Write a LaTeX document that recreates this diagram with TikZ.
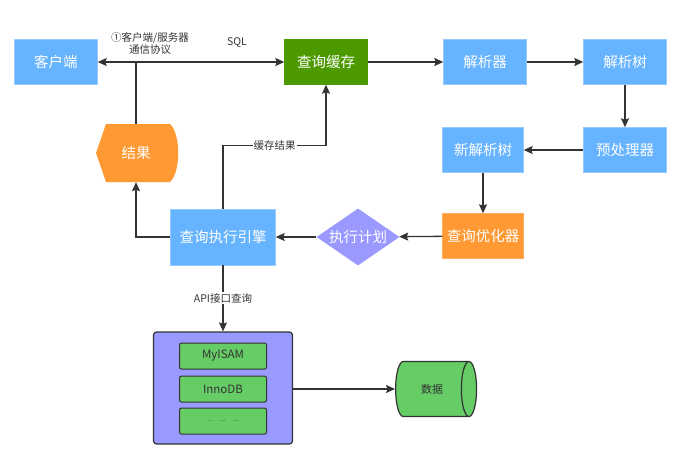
\documentclass[tikz,border=0pt]{standalone}
\usepackage{fontspec}
\setmainfont{Noto Sans CJK SC}
\usetikzlibrary{shapes.geometric,arrows.meta}
\definecolor{boxblue}{HTML}{66B3FF}
\definecolor{boxgreen}{HTML}{4D9A00}
\definecolor{boxorange}{HTML}{FF9933}
\definecolor{boxpurple}{HTML}{9999FF}
\definecolor{enggreen}{HTML}{66CC66}
\definecolor{linegray}{HTML}{333333}
\begin{document}
\begin{tikzpicture}[x=1pt, y=-1pt,
>={Stealth[length=9pt,width=8pt,inset=1.5pt]},
step box/.style={rectangle, fill=boxblue, draw=boxblue!70!white, text=white, font=\fontsize{14.5}{16}\selectfont, minimum width=83pt, minimum height=45pt, inner sep=0pt},
cache box/.style={step box, fill=boxgreen, draw=boxgreen},
opt box/.style={step box, fill=boxorange, draw=boxorange!80!white},
plan/.style={diamond, aspect=1.45, fill=boxpurple, text=white, font=\fontsize{14.5}{16}\selectfont, minimum width=83pt, minimum height=57pt, inner sep=0pt},
result/.style={rectangle, text=white, font=\fontsize{14.5}{16}\selectfont, minimum width=81pt, minimum height=58pt, inner sep=0pt},
engine/.style={rectangle, rounded corners=2pt, fill=enggreen, draw=linegray, line width=1pt, text=linegray, font=\fontsize{11.5}{13}\selectfont, minimum width=87pt, minimum height=26pt},
store/.style={rectangle, rounded corners=3pt, fill=boxpurple, draw=linegray, line width=1.2pt, minimum width=139pt, minimum height=112pt},
data/.style={cylinder, aspect=1.5, fill=enggreen, draw=linegray, line width=1.2pt, text=linegray, font=\fontsize{11}{13}\selectfont, minimum width=55pt, minimum height=81pt, inner sep=0pt},
link/.style={draw=linegray, line width=1.3pt},
tag/.style={text=linegray, font=\fontsize{10.5}{12}\selectfont, inner sep=1pt, align=center},
]
\useasboundingbox (0,0) rectangle (699,455);
\fill[boxorange] (96,153) -- (106,124) -- (170,124) .. controls (181,134) and (181,172) .. (170,182) -- (106,182) -- cycle;

\node[step box] (client) at (56,62) {客户端};
\node[cache box] (cache) at (326,62) {查询缓存};
\node[step box] (parser) at (485,62) {解析器};
\node[step box] (ptree) at (625,62) {解析树};
\node[step box] (prep) at (625,150) {预处理器};
\node[step box, minimum width=81pt] (newtree) at (483,150) {新解析树};
\node[opt box, minimum width=81pt] (optim) at (483,236) {查询优化器};
\node[plan] (exec) at (358,237) {执行计划};
\node[step box, minimum width=105pt, minimum height=56pt] (runner) at (223,237) {查询执行引擎};
\node[result] (res) at (136,153) {结果};
\node[store] (store) at (223,388) {};
\node[engine] (myisam) at (223,356) {MyISAM};
\node[engine] (innodb) at (223,389) {InnoDB};
\node[engine] (others) at (223,421) {\fontsize{7}{8}\selectfont ...\quad ...\quad ...};
\node[data] (data) at (432,389) {数据};

\node[tag] (proto) at (150,43) {①客户端/服务器\\通信协议};
\node[tag] (sql) at (237,43) {SQL};

\draw[link, <->] (client) -- (cache);
\draw[link] (res.north) -- (res.north |- client.east);
\draw[link, ->] (cache) -- (parser);
\draw[link, ->] (parser) -- (ptree);
\draw[link, ->] (ptree) -- (prep);
\draw[link, ->] (prep) -- (newtree);
\draw[link, ->] (newtree) -- (optim);
\draw[link, ->] (optim) -- (exec);
\draw[link, ->] (exec) -- (runner);
\draw[link, ->] (runner.west) -| (res.south);
\draw[link, ->] (runner.north) -- ++(0,-63) -| node[tag, fill=white, pos=0.25] {缓存结果} (cache.south);
\draw[link, ->] (runner.south) -- node[tag, fill=white] {API接口查询} (store.north);
\draw[link, ->] (store.east |- data.west) -- (data.west);
\end{tikzpicture}
\end{document}
